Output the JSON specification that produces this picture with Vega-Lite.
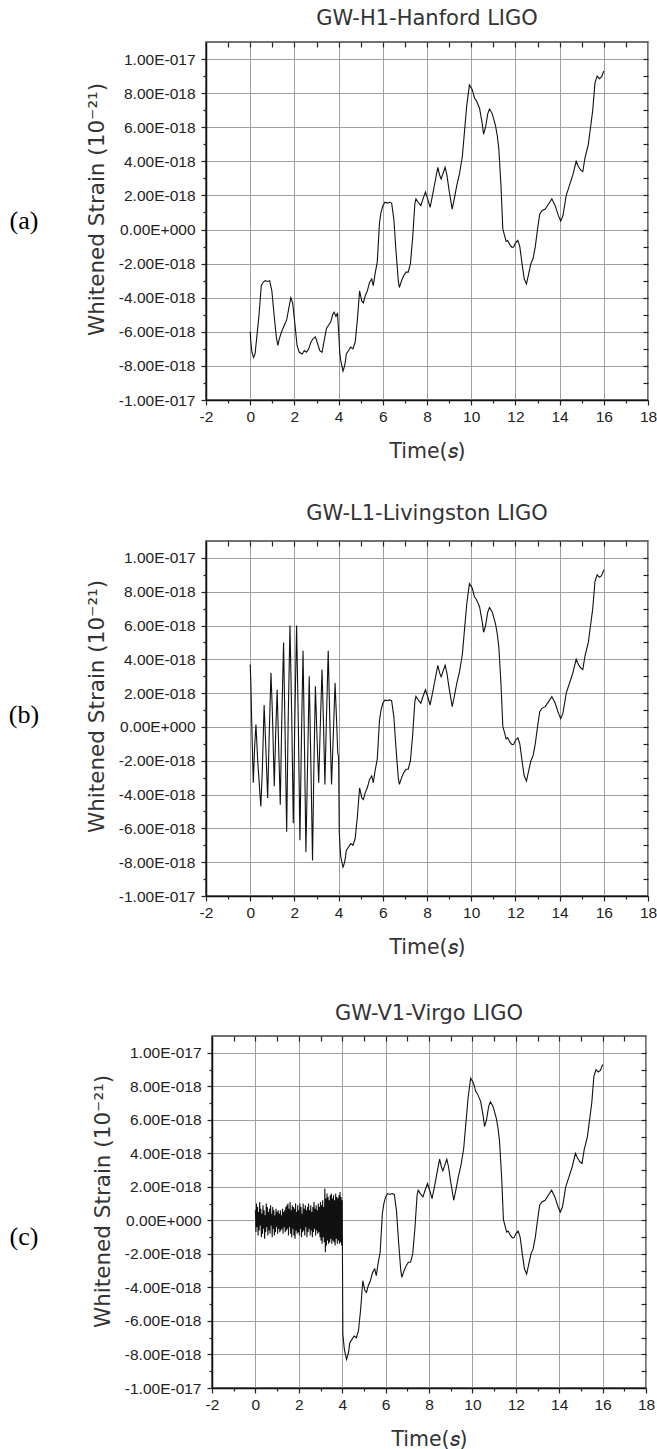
{
  "$schema": "https://vega.github.io/schema/vega-lite/v6.json",
  "padding": {"left": 0, "top": 7, "right": 0, "bottom": 0},
  "background": "white",
  "data": {"values": [
    {"s":"C","t":4.1,"v":-7.7},{"s":"C","t":4.15,"v":-8.0},{"s":"C","t":4.2,"v":-8.3},{"s":"C","t":4.25,"v":-8.1},{"s":"C","t":4.3,"v":-7.8},{"s":"C","t":4.35,"v":-7.3},{"s":"C","t":4.45,"v":-7.1},{"s":"C","t":4.55,"v":-6.9},{"s":"C","t":4.65,"v":-7.0},{"s":"C","t":4.75,"v":-6.6},{"s":"C","t":4.85,"v":-5.3},{"s":"C","t":4.95,"v":-3.6},{"s":"C","t":5.05,"v":-4.2},{"s":"C","t":5.12,"v":-4.3},{"s":"C","t":5.2,"v":-3.9},{"s":"C","t":5.3,"v":-3.6},{"s":"C","t":5.4,"v":-3.1},{"s":"C","t":5.5,"v":-2.9},{"s":"C","t":5.57,"v":-3.3},{"s":"C","t":5.65,"v":-2.6},{"s":"C","t":5.75,"v":-1.9},{"s":"C","t":5.85,"v":0.4},{"s":"C","t":5.92,"v":1.0},{"s":"C","t":6.0,"v":1.4},{"s":"C","t":6.1,"v":1.6},{"s":"C","t":6.2,"v":1.55},{"s":"C","t":6.3,"v":1.6},{"s":"C","t":6.4,"v":1.55},{"s":"C","t":6.5,"v":0.6},{"s":"C","t":6.6,"v":-1.3},{"s":"C","t":6.7,"v":-3.0},{"s":"C","t":6.75,"v":-3.4},{"s":"C","t":6.85,"v":-3.0},{"s":"C","t":6.95,"v":-2.7},{"s":"C","t":7.05,"v":-2.5},{"s":"C","t":7.15,"v":-2.5},{"s":"C","t":7.25,"v":-2.0},{"s":"C","t":7.35,"v":-0.5},{"s":"C","t":7.45,"v":1.5},{"s":"C","t":7.5,"v":1.8},{"s":"C","t":7.6,"v":1.6},{"s":"C","t":7.72,"v":1.4},{"s":"C","t":7.82,"v":1.8},{"s":"C","t":7.93,"v":2.2},{"s":"C","t":8.03,"v":1.8},{"s":"C","t":8.14,"v":1.3},{"s":"C","t":8.25,"v":2.0},{"s":"C","t":8.35,"v":2.7},{"s":"C","t":8.49,"v":3.65},{"s":"C","t":8.57,"v":3.2},{"s":"C","t":8.64,"v":2.97},{"s":"C","t":8.73,"v":3.3},{"s":"C","t":8.82,"v":3.65},{"s":"C","t":8.9,"v":3.2},{"s":"C","t":9.0,"v":2.3},{"s":"C","t":9.14,"v":1.2},{"s":"C","t":9.25,"v":1.9},{"s":"C","t":9.35,"v":2.6},{"s":"C","t":9.47,"v":3.26},{"s":"C","t":9.6,"v":4.3},{"s":"C","t":9.7,"v":5.8},{"s":"C","t":9.8,"v":7.3},{"s":"C","t":9.92,"v":8.48},{"s":"C","t":10.05,"v":8.2},{"s":"C","t":10.15,"v":7.7},{"s":"C","t":10.23,"v":7.56},{"s":"C","t":10.38,"v":7.1},{"s":"C","t":10.5,"v":6.2},{"s":"C","t":10.56,"v":5.6},{"s":"C","t":10.65,"v":6.0},{"s":"C","t":10.75,"v":6.8},{"s":"C","t":10.83,"v":7.07},{"s":"C","t":10.95,"v":6.8},{"s":"C","t":11.1,"v":6.1},{"s":"C","t":11.18,"v":5.5},{"s":"C","t":11.25,"v":4.73},{"s":"C","t":11.35,"v":2.5},{"s":"C","t":11.43,"v":0.04},{"s":"C","t":11.52,"v":-0.4},{"s":"C","t":11.58,"v":-0.7},{"s":"C","t":11.65,"v":-0.64},{"s":"C","t":11.75,"v":-0.9},{"s":"C","t":11.85,"v":-1.05},{"s":"C","t":11.92,"v":-1.03},{"s":"C","t":12.0,"v":-0.8},{"s":"C","t":12.11,"v":-0.64},{"s":"C","t":12.2,"v":-1.0},{"s":"C","t":12.3,"v":-2.0},{"s":"C","t":12.4,"v":-2.9},{"s":"C","t":12.5,"v":-3.2},{"s":"C","t":12.6,"v":-2.6},{"s":"C","t":12.7,"v":-2.0},{"s":"C","t":12.8,"v":-1.7},{"s":"C","t":12.9,"v":-1.0},{"s":"C","t":13.0,"v":0.0},{"s":"C","t":13.1,"v":0.9},{"s":"C","t":13.2,"v":1.1},{"s":"C","t":13.35,"v":1.2},{"s":"C","t":13.5,"v":1.5},{"s":"C","t":13.65,"v":1.8},{"s":"C","t":13.8,"v":1.4},{"s":"C","t":13.95,"v":0.8},{"s":"C","t":14.05,"v":0.5},{"s":"C","t":14.15,"v":0.8},{"s":"C","t":14.3,"v":2.0},{"s":"C","t":14.45,"v":2.6},{"s":"C","t":14.6,"v":3.2},{"s":"C","t":14.75,"v":4.0},{"s":"C","t":14.85,"v":3.7},{"s":"C","t":14.95,"v":3.5},{"s":"C","t":15.05,"v":3.4},{"s":"C","t":15.15,"v":4.2},{"s":"C","t":15.3,"v":5.0},{"s":"C","t":15.4,"v":6.0},{"s":"C","t":15.5,"v":7.0},{"s":"C","t":15.6,"v":8.6},{"s":"C","t":15.7,"v":9.0},{"s":"C","t":15.8,"v":8.85},{"s":"C","t":15.9,"v":8.95},{"s":"C","t":16.0,"v":9.3},
    {"s":"H1","t":0.0,"v":-6.0},{"s":"H1","t":0.03,"v":-6.6},{"s":"H1","t":0.08,"v":-7.2},{"s":"H1","t":0.15,"v":-7.5},{"s":"H1","t":0.22,"v":-7.3},{"s":"H1","t":0.3,"v":-6.3},{"s":"H1","t":0.4,"v":-5.0},{"s":"H1","t":0.5,"v":-3.3},{"s":"H1","t":0.58,"v":-3.1},{"s":"H1","t":0.68,"v":-3.0},{"s":"H1","t":0.78,"v":-3.05},{"s":"H1","t":0.88,"v":-3.0},{"s":"H1","t":0.98,"v":-3.6},{"s":"H1","t":1.08,"v":-5.0},{"s":"H1","t":1.18,"v":-6.3},{"s":"H1","t":1.25,"v":-6.8},{"s":"H1","t":1.32,"v":-6.4},{"s":"H1","t":1.42,"v":-6.0},{"s":"H1","t":1.55,"v":-5.6},{"s":"H1","t":1.65,"v":-5.3},{"s":"H1","t":1.75,"v":-4.6},{"s":"H1","t":1.84,"v":-4.0},{"s":"H1","t":1.92,"v":-4.3},{"s":"H1","t":2.02,"v":-5.5},{"s":"H1","t":2.12,"v":-6.8},{"s":"H1","t":2.22,"v":-7.2},{"s":"H1","t":2.35,"v":-7.3},{"s":"H1","t":2.45,"v":-7.1},{"s":"H1","t":2.55,"v":-7.2},{"s":"H1","t":2.65,"v":-7.0},{"s":"H1","t":2.75,"v":-6.6},{"s":"H1","t":2.85,"v":-6.4},{"s":"H1","t":2.95,"v":-6.3},{"s":"H1","t":3.05,"v":-6.7},{"s":"H1","t":3.15,"v":-7.1},{"s":"H1","t":3.25,"v":-7.2},{"s":"H1","t":3.35,"v":-6.5},{"s":"H1","t":3.45,"v":-5.8},{"s":"H1","t":3.55,"v":-5.6},{"s":"H1","t":3.65,"v":-5.4},{"s":"H1","t":3.73,"v":-5.0},{"s":"H1","t":3.8,"v":-4.85},{"s":"H1","t":3.88,"v":-5.1},{"s":"H1","t":3.95,"v":-4.9},{"s":"H1","t":4.02,"v":-6.4},{"s":"H1","t":4.05,"v":-7.2},
    {"s":"L1","t":0.0,"v":3.7},{"s":"L1","t":0.03,"v":2.6},{"s":"L1","t":0.07,"v":0.2},{"s":"L1","t":0.14,"v":-3.3},{"s":"L1","t":0.2,"v":-1.2},{"s":"L1","t":0.26,"v":0.15},{"s":"L1","t":0.34,"v":-2.0},{"s":"L1","t":0.48,"v":-4.7},{"s":"L1","t":0.55,"v":-2.5},{"s":"L1","t":0.63,"v":1.3},{"s":"L1","t":0.7,"v":-1.0},{"s":"L1","t":0.79,"v":-4.2},{"s":"L1","t":0.86,"v":-0.5},{"s":"L1","t":0.94,"v":3.2},{"s":"L1","t":1.0,"v":1.0},{"s":"L1","t":1.09,"v":-3.5},{"s":"L1","t":1.15,"v":-0.5},{"s":"L1","t":1.22,"v":2.2},{"s":"L1","t":1.28,"v":-0.8},{"s":"L1","t":1.36,"v":-4.6},{"s":"L1","t":1.43,"v":0.5},{"s":"L1","t":1.51,"v":5.0},{"s":"L1","t":1.58,"v":-0.5},{"s":"L1","t":1.65,"v":-6.2},{"s":"L1","t":1.72,"v":0.5},{"s":"L1","t":1.8,"v":6.0},{"s":"L1","t":1.88,"v":0.5},{"s":"L1","t":1.95,"v":-5.7},{"s":"L1","t":2.02,"v":0.5},{"s":"L1","t":2.1,"v":6.0},{"s":"L1","t":2.18,"v":0.0},{"s":"L1","t":2.25,"v":-6.7},{"s":"L1","t":2.32,"v":-0.5},{"s":"L1","t":2.39,"v":4.5},{"s":"L1","t":2.46,"v":-1.5},{"s":"L1","t":2.52,"v":-7.4},{"s":"L1","t":2.6,"v":-2.0},{"s":"L1","t":2.67,"v":3.0},{"s":"L1","t":2.75,"v":-2.5},{"s":"L1","t":2.82,"v":-7.9},{"s":"L1","t":2.88,"v":-2.5},{"s":"L1","t":2.95,"v":2.4},{"s":"L1","t":3.02,"v":-0.5},{"s":"L1","t":3.1,"v":-3.3},{"s":"L1","t":3.17,"v":0.0},{"s":"L1","t":3.25,"v":3.4},{"s":"L1","t":3.32,"v":0.0},{"s":"L1","t":3.38,"v":-3.4},{"s":"L1","t":3.45,"v":0.5},{"s":"L1","t":3.53,"v":4.5},{"s":"L1","t":3.6,"v":0.5},{"s":"L1","t":3.68,"v":-3.4},{"s":"L1","t":3.76,"v":-0.5},{"s":"L1","t":3.84,"v":2.6},{"s":"L1","t":3.92,"v":0.0},{"s":"L1","t":3.96,"v":-1.5},{"s":"L1","t":4.0,"v":-1.8},{"s":"L1","t":4.03,"v":-6.2},{"s":"L1","t":4.07,"v":-7.2},
    {"s":"V1","t":0.0,"v":0.6},{"s":"V1","t":0.025,"v":-0.7},{"s":"V1","t":0.05,"v":1.0},{"s":"V1","t":0.075,"v":-0.4},{"s":"V1","t":0.1,"v":0.8},{"s":"V1","t":0.125,"v":-0.9},{"s":"V1","t":0.15,"v":0.5},{"s":"V1","t":0.175,"v":-0.6},
    {"s":"V1","t":0.2,"v":1.1},{"s":"V1","t":0.225,"v":-0.3},{"s":"V1","t":0.25,"v":0.7},{"s":"V1","t":0.275,"v":-1.0},{"s":"V1","t":0.3,"v":0.4},{"s":"V1","t":0.325,"v":-0.8},{"s":"V1","t":0.35,"v":0.9},{"s":"V1","t":0.375,"v":-0.5},
    {"s":"V1","t":0.4,"v":0.6},{"s":"V1","t":0.425,"v":-1.1},{"s":"V1","t":0.45,"v":0.3},{"s":"V1","t":0.475,"v":-0.7},{"s":"V1","t":0.5,"v":1.0},{"s":"V1","t":0.525,"v":-0.4},{"s":"V1","t":0.55,"v":0.8},{"s":"V1","t":0.575,"v":-0.9},
    {"s":"V1","t":0.6,"v":0.5},{"s":"V1","t":0.625,"v":-0.6},{"s":"V1","t":0.65,"v":0.7},{"s":"V1","t":0.675,"v":-0.8},{"s":"V1","t":0.7,"v":0.9},{"s":"V1","t":0.725,"v":-0.3},{"s":"V1","t":0.75,"v":0.4},{"s":"V1","t":0.775,"v":-1.0},
    {"s":"V1","t":0.8,"v":0.8},{"s":"V1","t":0.825,"v":-0.5},{"s":"V1","t":0.85,"v":0.6},{"s":"V1","t":0.875,"v":-0.9},{"s":"V1","t":0.9,"v":0.3},{"s":"V1","t":0.925,"v":-0.7},{"s":"V1","t":0.95,"v":0.7},{"s":"V1","t":0.975,"v":-0.4},
    {"s":"V1","t":1.0,"v":0.5},{"s":"V1","t":1.025,"v":-0.8},{"s":"V1","t":1.05,"v":0.6},{"s":"V1","t":1.075,"v":-0.5},{"s":"V1","t":1.1,"v":0.4},{"s":"V1","t":1.125,"v":-0.7},{"s":"V1","t":1.15,"v":0.6},{"s":"V1","t":1.175,"v":-0.6},
    {"s":"V1","t":1.2,"v":0.3},{"s":"V1","t":1.225,"v":-0.5},{"s":"V1","t":1.25,"v":0.7},{"s":"V1","t":1.275,"v":-0.8},{"s":"V1","t":1.3,"v":0.5},{"s":"V1","t":1.325,"v":-0.4},{"s":"V1","t":1.35,"v":0.6},{"s":"V1","t":1.375,"v":-0.7},
    {"s":"V1","t":1.4,"v":0.8},{"s":"V1","t":1.425,"v":-0.6},{"s":"V1","t":1.45,"v":0.9},{"s":"V1","t":1.475,"v":-0.5},{"s":"V1","t":1.5,"v":1.0},{"s":"V1","t":1.525,"v":-0.9},{"s":"V1","t":1.55,"v":0.7},{"s":"V1","t":1.575,"v":-0.4},
    {"s":"V1","t":1.6,"v":1.1},{"s":"V1","t":1.625,"v":-0.8},{"s":"V1","t":1.65,"v":0.6},{"s":"V1","t":1.675,"v":-1.0},{"s":"V1","t":1.7,"v":0.9},{"s":"V1","t":1.725,"v":-0.5},{"s":"V1","t":1.75,"v":0.8},{"s":"V1","t":1.775,"v":-0.9},
    {"s":"V1","t":1.8,"v":0.7},{"s":"V1","t":1.825,"v":-1.1},{"s":"V1","t":1.85,"v":1.0},{"s":"V1","t":1.875,"v":-0.6},{"s":"V1","t":1.9,"v":0.5},{"s":"V1","t":1.925,"v":-0.8},{"s":"V1","t":1.95,"v":0.9},{"s":"V1","t":1.975,"v":-0.7},
    {"s":"V1","t":2.0,"v":0.6},{"s":"V1","t":2.025,"v":-0.9},{"s":"V1","t":2.05,"v":1.0},{"s":"V1","t":2.075,"v":-0.5},{"s":"V1","t":2.1,"v":0.8},{"s":"V1","t":2.125,"v":-1.0},{"s":"V1","t":2.15,"v":0.4},{"s":"V1","t":2.175,"v":-0.7},
    {"s":"V1","t":2.2,"v":1.0},{"s":"V1","t":2.225,"v":-0.6},{"s":"V1","t":2.25,"v":0.7},{"s":"V1","t":2.275,"v":-0.9},{"s":"V1","t":2.3,"v":0.9},{"s":"V1","t":2.325,"v":-0.4},{"s":"V1","t":2.35,"v":0.6},{"s":"V1","t":2.375,"v":-1.0},
    {"s":"V1","t":2.4,"v":0.8},{"s":"V1","t":2.425,"v":-0.7},{"s":"V1","t":2.45,"v":1.0},{"s":"V1","t":2.475,"v":-0.5},{"s":"V1","t":2.5,"v":0.6},{"s":"V1","t":2.525,"v":-0.9},{"s":"V1","t":2.55,"v":0.9},{"s":"V1","t":2.575,"v":-0.6},
    {"s":"V1","t":2.6,"v":0.5},{"s":"V1","t":2.625,"v":-1.0},{"s":"V1","t":2.65,"v":0.8},{"s":"V1","t":2.675,"v":-0.7},{"s":"V1","t":2.7,"v":1.1},{"s":"V1","t":2.725,"v":-0.5},{"s":"V1","t":2.75,"v":0.7},{"s":"V1","t":2.775,"v":-0.9},
    {"s":"V1","t":2.8,"v":0.9},{"s":"V1","t":2.825,"v":-0.6},{"s":"V1","t":2.85,"v":0.6},{"s":"V1","t":2.875,"v":-0.8},{"s":"V1","t":2.9,"v":1.0},{"s":"V1","t":2.925,"v":-0.7},{"s":"V1","t":2.95,"v":0.8},{"s":"V1","t":2.975,"v":-1.0},
    {"s":"V1","t":3.0,"v":1.1},{"s":"V1","t":3.025,"v":-1.2},{"s":"V1","t":3.05,"v":0.9},{"s":"V1","t":3.075,"v":-1.4},{"s":"V1","t":3.1,"v":1.2},{"s":"V1","t":3.125,"v":-1.0},{"s":"V1","t":3.15,"v":0.8},{"s":"V1","t":3.175,"v":-1.3},
    {"s":"V1","t":3.2,"v":1.9},{"s":"V1","t":3.225,"v":-1.9},{"s":"V1","t":3.25,"v":1.3},{"s":"V1","t":3.275,"v":-1.5},{"s":"V1","t":3.3,"v":1.6},{"s":"V1","t":3.325,"v":-1.2},{"s":"V1","t":3.35,"v":1.4},{"s":"V1","t":3.375,"v":-1.4},
    {"s":"V1","t":3.4,"v":1.2},{"s":"V1","t":3.425,"v":-1.3},{"s":"V1","t":3.45,"v":1.5},{"s":"V1","t":3.475,"v":-1.1},{"s":"V1","t":3.5,"v":1.6},{"s":"V1","t":3.525,"v":-1.4},{"s":"V1","t":3.55,"v":1.3},{"s":"V1","t":3.575,"v":-1.2},
    {"s":"V1","t":3.6,"v":1.5},{"s":"V1","t":3.625,"v":-1.3},{"s":"V1","t":3.65,"v":1.2},{"s":"V1","t":3.675,"v":-1.5},{"s":"V1","t":3.7,"v":1.6},{"s":"V1","t":3.725,"v":-1.1},{"s":"V1","t":3.75,"v":1.4},{"s":"V1","t":3.775,"v":-1.4},
    {"s":"V1","t":3.8,"v":1.3},{"s":"V1","t":3.825,"v":-1.2},{"s":"V1","t":3.85,"v":1.5},{"s":"V1","t":3.875,"v":-1.4},{"s":"V1","t":3.9,"v":1.7},{"s":"V1","t":3.925,"v":-1.3},{"s":"V1","t":3.95,"v":1.4},{"s":"V1","t":3.975,"v":-1.5},
    {"s":"V1","t":4.0,"v":1.2},{"s":"V1","t":4.03,"v":-6.8},{"s":"V1","t":4.07,"v":-7.3}
  ]},
  "vconcat": [
    {
      "hconcat": [
        {"width": 48, "height": 358, "view": {"stroke": null}, "data": {"values": [{"p": "(a)"}]},
         "mark": {"type": "text", "font": "Liberation Serif", "fontSize": 26, "color": "#000"},
         "encoding": {"text": {"field": "p"}}},
        {
          "width": 442, "height": 358,
          "title": {"text": "GW-H1-Hanford LIGO", "offset": 12},
          "layer": [
            {"transform": [{"filter": "datum.s == 'C' || datum.s == 'H1'"}],
             "mark": {"type": "line", "color": "#111", "strokeWidth": 1.1},
             "encoding": {
               "x": {"field": "t", "type": "quantitative", "scale": {"domain": [-2, 18], "nice": false, "zero": false},
                     "axis": {"orient": "bottom", "values": [-2,0,2,4,6,8,10,12,14,16,18], "labelExpr": "'' + datum.value", "tickSize": 5, "labelPadding": 4, "grid": true, "title": "Time(𝑠)", "titlePadding": 17}},
               "y": {"field": "v", "type": "quantitative", "scale": {"domain": [-10, 11], "nice": false, "zero": false},
                     "axis": {"orient": "left", "values": [-10,-8,-6,-4,-2,0,2,4,6,8,10], "labelExpr": "datum.value == 0 ? '0.00E+000' : (datum.value < 0 ? '-' : '') + (abs(datum.value) >= 10 ? format(abs(datum.value) / 10, '.2f') + 'E-017' : format(abs(datum.value), '.2f') + 'E-018')", "tickSize": 5, "labelPadding": 6, "grid": true, "title": "Whitened Strain (10⁻²¹)", "titleFontSize": 21.5, "titlePadding": 10, "titleY": 167}}
             }},
            {"data": {"values": [{"t": 0, "v": 0}]},
             "mark": {"type": "point", "opacity": 0},
             "encoding": {
               "x": {"field": "t", "type": "quantitative", "scale": {"domain": [-2, 18], "nice": false, "zero": false},
                     "axis": {"orient": "bottom", "values": [-1,1,3,5,7,9,11,13,15,17], "tickSize": 3, "labels": false, "domain": false, "grid": false, "title": null}},
               "y": {"field": "v", "type": "quantitative", "scale": {"domain": [-10, 11], "nice": false, "zero": false},
                     "axis": {"orient": "left", "values": [-9,-7,-5,-3,-1,1,3,5,7,9], "tickSize": 3, "labels": false, "domain": false, "grid": false, "title": null}}
             }},
            {"data": {"values": [{"t": 0, "v": 0}]},
             "mark": {"type": "point", "opacity": 0},
             "encoding": {
               "x": {"field": "t", "type": "quantitative", "scale": {"domain": [-2, 18], "nice": false, "zero": false},
                     "axis": {"orient": "top", "values": [-1,0,1,2,3,4,5,6,7,8,9,10,11,12,13,14,15,16,17], "tickSize": -5, "labels": false, "domain": false, "grid": false, "title": null}},
               "y": {"field": "v", "type": "quantitative", "scale": {"domain": [-10, 11], "nice": false, "zero": false},
                     "axis": {"orient": "right", "values": [-9,-8,-7,-6,-5,-4,-3,-2,-1,0,1,2,3,4,5,6,7,8,9,10], "tickSize": -5, "labels": false, "domain": false, "grid": false, "title": null}}
             }}
          ],
          "resolve": {"axis": {"x": "independent", "y": "independent"}}
        }
      ],
      "spacing": 158,
      "bounds": "flush"
    },
    {
      "vconcat": [
        {
          "hconcat": [
            {"width": 48, "height": 355, "view": {"stroke": null}, "data": {"values": [{"p": "(b)"}]},
             "mark": {"type": "text", "font": "Liberation Serif", "fontSize": 26, "color": "#000", "dy": -4},
             "encoding": {"text": {"field": "p"}}},
            {
              "width": 442, "height": 355,
              "title": {"text": "GW-L1-Livingston LIGO", "offset": 16},
              "layer": [
                {"transform": [{"filter": "datum.s == 'C' || datum.s == 'L1'"}],
                 "mark": {"type": "line", "color": "#111", "strokeWidth": 1.1},
                 "encoding": {
                   "x": {"field": "t", "type": "quantitative", "scale": {"domain": [-2, 18], "nice": false, "zero": false},
                         "axis": {"orient": "bottom", "values": [-2,0,2,4,6,8,10,12,14,16,18], "labelExpr": "'' + datum.value", "tickSize": 5, "labelPadding": 4, "grid": true, "title": "Time(𝑠)", "titlePadding": 17}},
                   "y": {"field": "v", "type": "quantitative", "scale": {"domain": [-10, 11], "nice": false, "zero": false},
                         "axis": {"orient": "left", "values": [-10,-8,-6,-4,-2,0,2,4,6,8,10], "labelExpr": "datum.value == 0 ? '0.00E+000' : (datum.value < 0 ? '-' : '') + (abs(datum.value) >= 10 ? format(abs(datum.value) / 10, '.2f') + 'E-017' : format(abs(datum.value), '.2f') + 'E-018')", "tickSize": 5, "labelPadding": 6, "grid": true, "title": "Whitened Strain (10⁻²¹)", "titleFontSize": 21.5, "titlePadding": 10, "titleY": 165}}
                 }},
                {"data": {"values": [{"t": 0, "v": 0}]},
                 "mark": {"type": "point", "opacity": 0},
                 "encoding": {
                   "x": {"field": "t", "type": "quantitative", "scale": {"domain": [-2, 18], "nice": false, "zero": false},
                         "axis": {"orient": "bottom", "values": [-1,1,3,5,7,9,11,13,15,17], "tickSize": 3, "labels": false, "domain": false, "grid": false, "title": null}},
                   "y": {"field": "v", "type": "quantitative", "scale": {"domain": [-10, 11], "nice": false, "zero": false},
                         "axis": {"orient": "left", "values": [-9,-7,-5,-3,-1,1,3,5,7,9], "tickSize": 3, "labels": false, "domain": false, "grid": false, "title": null}}
                 }},
                {"data": {"values": [{"t": 0, "v": 0}]},
                 "mark": {"type": "point", "opacity": 0},
                 "encoding": {
                   "x": {"field": "t", "type": "quantitative", "scale": {"domain": [-2, 18], "nice": false, "zero": false},
                         "axis": {"orient": "top", "values": [-1,0,1,2,3,4,5,6,7,8,9,10,11,12,13,14,15,16,17], "tickSize": -5, "labels": false, "domain": false, "grid": false, "title": null}},
                   "y": {"field": "v", "type": "quantitative", "scale": {"domain": [-10, 11], "nice": false, "zero": false},
                         "axis": {"orient": "right", "values": [-9,-8,-7,-6,-5,-4,-3,-2,-1,0,1,2,3,4,5,6,7,8,9,10], "tickSize": -5, "labels": false, "domain": false, "grid": false, "title": null}}
                 }}
              ],
              "resolve": {"axis": {"x": "independent", "y": "independent"}}
            }
          ],
          "spacing": 158,
          "bounds": "flush"
        },
        {
          "hconcat": [
            {"width": 48, "height": 352, "view": {"stroke": null}, "data": {"values": [{"p": "(c)"}]},
             "mark": {"type": "text", "font": "Liberation Serif", "fontSize": 26, "color": "#000", "dy": 25},
             "encoding": {"text": {"field": "p"}}},
            {
              "width": 434, "height": 352,
              "title": {"text": "GW-V1-Virgo LIGO", "offset": 11},
              "layer": [
                {"transform": [{"filter": "datum.s == 'C' || datum.s == 'V1'"}],
                 "mark": {"type": "line", "color": "#111", "strokeWidth": 1.1},
                 "encoding": {
                   "x": {"field": "t", "type": "quantitative", "scale": {"domain": [-2, 18], "nice": false, "zero": false},
                         "axis": {"orient": "bottom", "values": [-2,0,2,4,6,8,10,12,14,16,18], "labelExpr": "'' + datum.value", "tickSize": 5, "labelPadding": 4, "grid": true, "title": "Time(𝑠)", "titlePadding": 17}},
                   "y": {"field": "v", "type": "quantitative", "scale": {"domain": [-10, 11], "nice": false, "zero": false},
                         "axis": {"orient": "left", "values": [-10,-8,-6,-4,-2,0,2,4,6,8,10], "labelExpr": "datum.value == 0 ? '0.00E+000' : (datum.value < 0 ? '-' : '') + (abs(datum.value) >= 10 ? format(abs(datum.value) / 10, '.2f') + 'E-017' : format(abs(datum.value), '.2f') + 'E-018')", "tickSize": 5, "labelPadding": 6, "grid": true, "title": "Whitened Strain (10⁻²¹)", "titleFontSize": 21.5, "titlePadding": 10, "titleY": 165}}
                 }},
                {"data": {"values": [{"t": 0, "v": 0}]},
                 "mark": {"type": "point", "opacity": 0},
                 "encoding": {
                   "x": {"field": "t", "type": "quantitative", "scale": {"domain": [-2, 18], "nice": false, "zero": false},
                         "axis": {"orient": "bottom", "values": [-1,1,3,5,7,9,11,13,15,17], "tickSize": 3, "labels": false, "domain": false, "grid": false, "title": null}},
                   "y": {"field": "v", "type": "quantitative", "scale": {"domain": [-10, 11], "nice": false, "zero": false},
                         "axis": {"orient": "left", "values": [-9,-7,-5,-3,-1,1,3,5,7,9], "tickSize": 3, "labels": false, "domain": false, "grid": false, "title": null}}
                 }},
                {"data": {"values": [{"t": 0, "v": 0}]},
                 "mark": {"type": "point", "opacity": 0},
                 "encoding": {
                   "x": {"field": "t", "type": "quantitative", "scale": {"domain": [-2, 18], "nice": false, "zero": false},
                         "axis": {"orient": "top", "values": [-1,0,1,2,3,4,5,6,7,8,9,10,11,12,13,14,15,16,17], "tickSize": -5, "labels": false, "domain": false, "grid": false, "title": null}},
                   "y": {"field": "v", "type": "quantitative", "scale": {"domain": [-10, 11], "nice": false, "zero": false},
                         "axis": {"orient": "right", "values": [-9,-8,-7,-6,-5,-4,-3,-2,-1,0,1,2,3,4,5,6,7,8,9,10], "tickSize": -5, "labels": false, "domain": false, "grid": false, "title": null}}
                 }}
              ],
              "resolve": {"axis": {"x": "independent", "y": "independent"}}
            }
          ],
          "spacing": 164,
          "bounds": "flush"
        }
      ],
      "spacing": 43
    }
  ],
  "spacing": 39,
  "config": {
    "font": "DejaVu Sans",
    "view": {"stroke": "#444", "strokeWidth": 1.5},
    "axis": {"labelFont": "Liberation Sans", "labelFontSize": 15.5, "labelColor": "#222", "titleFont": "DejaVu Sans", "titleFontSize": 20.5, "titleFontWeight": "normal", "titleColor": "#333", "tickColor": "#222", "tickWidth": 1.2, "domainColor": "#111", "domainWidth": 1.5, "gridColor": "#9e9e9e", "gridWidth": 1, "gridOpacity": 1, "labelFlush": false, "labelOverlap": false},
    "title": {"font": "DejaVu Sans", "fontSize": 21, "fontWeight": "normal", "color": "#333", "frame": "group", "anchor": "middle"}
  }
}
